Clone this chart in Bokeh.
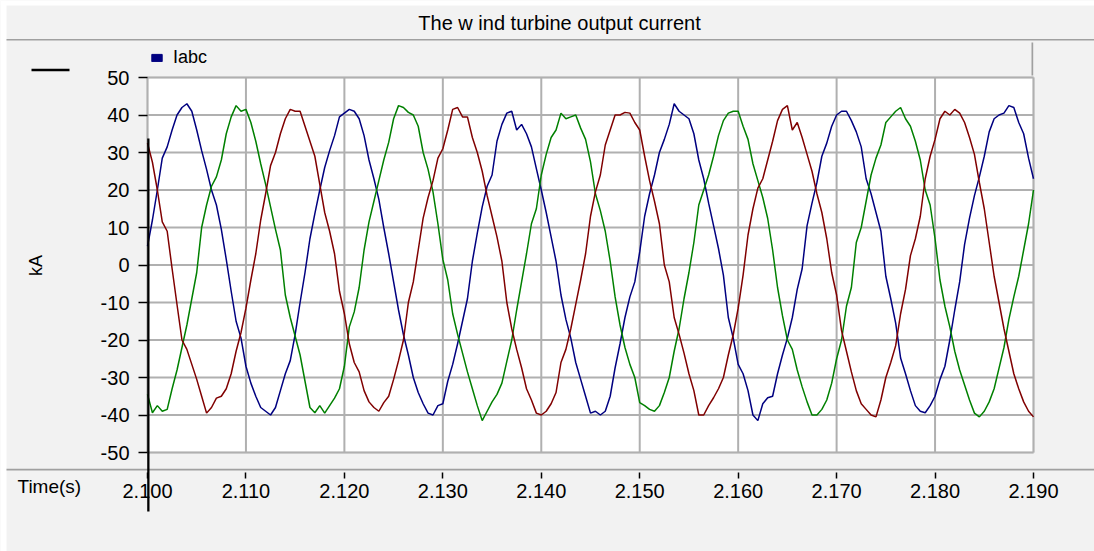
import math

from bokeh.plotting import figure
from bokeh.models import (Range1d, FixedTicker, NumeralTickFormatter, Label,
                          BoxAnnotation, Legend, LegendItem, LinearAxis)
from bokeh.embed import file_html
from bokeh.resources import INLINE

# Sampling grid of the recorded currents (s)
T_START = 2.100
T_STEP = 0.0005

# Phase currents in kA, one sample every 0.5 ms from 2.100 s to 2.190 s
ia = [
    5, 12, 20, 28.5, 31.5, 36, 40, 42, 43, 41,
    36, 30.5, 25.5, 20, 16, 9.5, 1.5, -7, -15, -19.5,
    -27, -31.5, -35, -38, -39, -40, -38, -33.5, -29, -25.5,
    -18.5, -10, -2, 7, 13.7, 20, 26, 30.5, 34.5, 39.5,
    40.5, 41.5, 41, 39, 34.5, 28, 23, 17.5, 10, 3,
    -4.5, -12, -18.6, -24, -30, -34, -37, -39.5, -40, -37.5,
    -37, -31, -26.5, -21, -15, -9, 1, 8.5, 15.5, 21,
    24, 33, 37.5, 40.5, 41, 36, 37.5, 35, 31.5, 25.7,
    20, 14, 7.5, 1, -8, -14.5, -19.5, -26, -30.5, -35,
    -39.5, -39, -40, -39, -35, -27.4, -21, -14, -8.5, -4.5,
    3.5, 13, 19, 24, 30, 33.5, 37.5, 43, 41, 40,
    39, 35, 28, 23, 16.5, 10.5, 4.4, -2.7, -14, -19.5,
    -26.5, -29, -33.5, -40, -41.5, -37, -35.4, -35, -29, -24,
    -19.5, -14, -6.5, -1, 10.5, 16.5, 22, 29, 32.5, 37,
    40, 41, 41, 38.5, 35.5, 31.5, 23, 19, 14, 9,
    -3, -9, -15.5, -24.8, -29, -33.5, -37.5, -39, -39.4, -37.5,
    -35, -30.5, -27, -20, -12, -4.5, 5.5, 12.5, 18.5, 23.5,
    29, 35.5, 39, 40, 40.5, 42.5, 42, 38, 35, 28.5,
    23,
]

ib = [
    32.5, 27.4, 20, 11.5, 9, -1, -10.6, -20, -22.5, -26.5,
    -30.5, -35, -39.5, -38, -35.5, -35, -33, -29, -23, -18,
    -11.5, -4, 3, 12, 19, 26.5, 30, 35, 39, 41.5,
    41, 41, 37, 33, 29, 21.5, 14, 9, 3, -7,
    -13, -21, -26, -28.5, -33.5, -36.5, -38, -39, -36.7, -35,
    -30.5, -25.5, -20, -10, -4.5, 4, 12.5, 18, 22.5, 28.5,
    31, 36, 41.5, 42, 39.5, 39.5, 34, 30, 25, 18.5,
    13, 7.5, 1, -10, -17, -22.5, -27.4, -33, -36, -39.5,
    -40, -39, -37, -34, -26, -22.5, -17, -10.5, -4, 3,
    13, 19.5, 24, 32, 36, 40, 40, 40.7, 40.5, 38,
    36, 29, 22.5, 17, 11, 0, -4.5, -14, -18.5, -23.5,
    -29, -33.5, -40, -40, -37.5, -35.4, -33, -30, -24, -18.6,
    -11.5, -2.7, 8, 15, 20.5, 23, 28, 33, 38.5, 41.5,
    42.5, 36, 38, 34, 29.5, 25, 19, 14, 7, -2,
    -8, -17.5, -23, -28.5, -33.5, -37, -38.5, -40, -40.5, -36,
    -30, -26, -21.5, -13, -6.5, 2.5, 7, 13, 23, 29,
    33.5, 39, 41, 40, 41.5, 40.5, 38, 34, 29.5, 22,
    15, 6, -3, -10, -17, -23, -29, -33, -36.5, -39,
    -40.5,
]

ic = [
    -34.5, -39.4, -37.5, -39, -38.5, -33, -28, -22, -16, -9,
    -2, 10, 16, 21, 23.5, 28, 35, 39.5, 42.5, 41,
    41.5, 38, 33, 27, 21.5, 15.5, 9.5, 4, -8, -14,
    -19, -24, -31, -38, -39.4, -37.5, -39.5, -37.5, -35.5, -33,
    -27, -16.5, -12.5, -6, 4, 11.5, 17, 22.5, 28, 32.7,
    39, 42.5, 42, 40.7, 40, 37, 30, 25.5, 19.5, 11,
    1.5, -4, -13, -18.5, -23.5, -28.5, -33, -37.5, -41.5, -39,
    -36.5, -34.5, -31.5, -25.7, -20, -12, -4.5, 3, 11, 15,
    24, 29.5, 34, 36, 40.5, 39, 39.5, 40, 36.5, 33.5,
    27.5, 19, 14.5, 9, 1, -8.5, -16, -22, -26.5, -30,
    -36.7, -37.5, -38.5, -39, -37.5, -34, -30, -23, -17, -9,
    -2, 6, 16, 20, 24, 29, 34.5, 38.5, 40.5, 41,
    41, 37, 33.5, 27, 22.5, 18, 12.4, 4, -6, -13.5,
    -20, -22.5, -28, -32.5, -36.5, -40, -40, -38.5, -36, -31.5,
    -25, -20, -11, -6, 6, 10, 17, 24, 28.5, 32,
    38, 39.5, 41, 42, 39, 37, 33, 28, 20, 16,
    7, -4, -11, -16.5, -23, -28, -32, -36, -39.5, -40.5,
    -39, -36.5, -33, -27.5, -22, -14.5, -8.5, -3, 4, 11,
    20,
]

x_ticks = [2.10, 2.11, 2.12, 2.13, 2.14, 2.15, 2.16, 2.17, 2.18, 2.19]
y_ticks = [-50, -40, -30, -20, -10, 0, 10, 20, 30, 40, 50]

series = [("Ia", ia, "#000080"), ("Ic", ic, "#008000"), ("Ib", ib, "#800000")]

FONT = "Liberation Sans"
PANEL = "#f2f2f2"
RULE = "#a0a0a0"
GRID = "#b0b0b0"

W, H = 1094, 551
# plot area inside the panel, in pixels from the top-left corner
PX_L, PX_R, PX_T, PX_B = 147, 1033, 77, 452
T0, T1, Y0, Y1 = 2.100, 2.190, -50, 50
sx = (T1 - T0) / (PX_R - PX_L)
sy = (Y1 - Y0) / (PX_B - PX_T)

# the frame fills the whole panel; ranges are widened so the data window
# lands on the plot area
p = figure(width=W, height=H,
           x_range=Range1d(T0 - PX_L * sx, T1 + (W - PX_R) * sx),
           y_range=Range1d(Y0 - (H - PX_B) * sy, Y1 + PX_T * sy),
           x_axis_location=None, y_axis_location=None,
           output_backend="svg", toolbar_location=None,
           min_border=0, background_fill_color=PANEL,
           border_fill_color=PANEL, outline_line_color=None)
p.grid.visible = False

# white plot area with its grey frame
p.add_layout(BoxAnnotation(left=T0, right=T1, bottom=Y0, top=Y1,
                           fill_color="white", fill_alpha=1.0,
                           line_color="#a8a8a8", line_width=2,
                           level="underlay"))

# grid lines at the tick positions
p.segment(x0=x_ticks, y0=[Y0] * len(x_ticks), x1=x_ticks, y1=[Y1] * len(x_ticks),
          line_color=GRID, line_width=2)
p.segment(x0=[T0] * len(y_ticks), y0=y_ticks, x1=[T1] * len(y_ticks), y1=y_ticks,
          line_color=GRID, line_width=2)

for name, vals, color in series:
    t = [round(T_START + T_STEP * i, 4) for i in range(len(vals))]
    p.line(t, vals, line_color=color, line_width=1.5)

# current axis on the left edge of the plot area
yaxis = LinearAxis(fixed_location=T0, bounds=(Y0, Y1),
                   ticker=FixedTicker(ticks=y_ticks),
                   formatter=NumeralTickFormatter(format="0"),
                   axis_line_color=None,
                   major_tick_in=0, major_tick_out=9,
                   major_tick_line_color="black", major_tick_line_width=1.5,
                   minor_tick_line_color=None,
                   major_label_standoff=9,
                   major_label_text_font=FONT,
                   major_label_text_font_size="20px",
                   major_label_text_color="black")
p.add_layout(yaxis, "left")

# time axis in the strip below the separator rule
xaxis = LinearAxis(fixed_location=Y0 - 20 * sy, bounds=(T0, T1),
                   ticker=FixedTicker(ticks=x_ticks),
                   formatter=NumeralTickFormatter(format="0.000"),
                   axis_line_color=None,
                   major_tick_in=0, major_tick_out=6,
                   major_tick_line_color="black", major_tick_line_width=1.5,
                   minor_tick_line_color=None,
                   major_label_standoff=5,
                   major_label_text_font=FONT,
                   major_label_text_font_size="20px",
                   major_label_text_color="black")
p.add_layout(xaxis, "below")

# legend swatch for the three-phase current group (a glyph with no visible extent)
nan = float("nan")
swatch = p.quad(left=[nan], right=[nan], top=[nan], bottom=[nan],
                fill_color="#000080", line_color="#000080")
legend = Legend(items=[LegendItem(label="Iabc", renderers=[swatch])],
                location=(150, H - 57 - 10.5), padding=0, margin=0, spacing=0,
                glyph_width=13, glyph_height=9, label_standoff=10,
                background_fill_alpha=0, border_line_alpha=0,
                label_text_font=FONT, label_text_font_size="18px",
                label_text_color="black")
p.add_layout(legend)


def screen_box(x0, x1, ytop, ybot, color):
    # pixel box given from the top-left corner
    return BoxAnnotation(left=x0, right=x1, bottom=H - ybot, top=H - ytop,
                         left_units="screen", right_units="screen",
                         bottom_units="screen", top_units="screen",
                         fill_color=color, fill_alpha=1.0,
                         line_color=None, level="overlay")


# page edge strips, panel rules, legend box edge, cursor and trace marker
for box in [
    screen_box(0, W, 0, 5, "white"),
    screen_box(0, 6, 0, H, "white"),
    screen_box(6, W, 38.5, 40, RULE),
    screen_box(6, W, 468.3, 470, RULE),
    screen_box(1031, 1032.7, 42, 75, RULE),
    screen_box(146.7, 149, 138, 511, "black"),
    screen_box(31, 69, 68.3, 70.7, "black"),
]:
    p.add_layout(box)

texts = [
    Label(x=559, y=H - 22, text="The w ind turbine output current",
          text_align="center", text_baseline="middle", text_font_size="20px"),
    Label(x=17, y=H - 486, text="Time(s)",
          text_align="left", text_baseline="middle", text_font_size="19px"),
    Label(x=35, y=H - 265, text="kA", angle=math.pi / 2,
          text_align="center", text_baseline="middle", text_font_size="18px"),
]
for lab in texts:
    lab.x_units = "screen"
    lab.y_units = "screen"
    lab.text_font = FONT
    lab.text_color = "black"
    p.add_layout(lab)

open("out.html", "w").write(file_html(p, INLINE))
